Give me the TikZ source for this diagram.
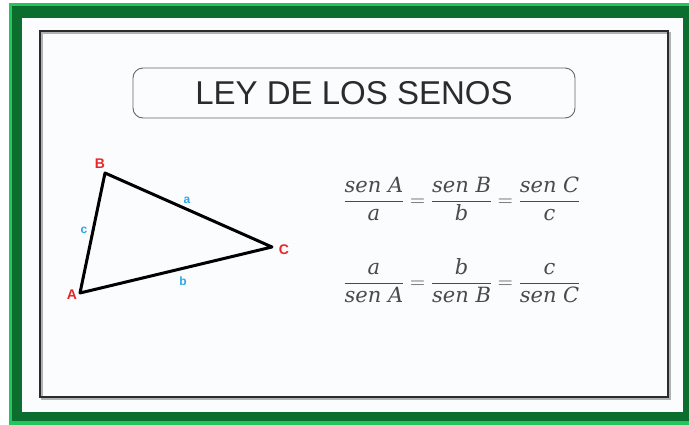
\documentclass[tikz,border=0pt]{standalone}
\usepackage{fontspec}
\usepackage{amsmath}
\newfontfamily\arialf{Liberation Sans}
\newfontfamily\camf{DejaVu Serif}
\definecolor{gdark}{HTML}{0B6E2E}
\definecolor{glight}{HTML}{22C55E}
\definecolor{paper}{HTML}{FBFCFD}
\definecolor{ink}{HTML}{2B2B2B}
\definecolor{formula}{HTML}{4A4A4A}
\definecolor{vred}{HTML}{E8262A}
\definecolor{sblue}{HTML}{2EA6E6}
\newcommand{\fv}[1]{\textit{\camf #1}}
\tikzset{
  vlabel/.style={font=\arialf\bfseries\fontsize{14}{14}\selectfont, text=vred, inner sep=0pt},
  slabel/.style={font=\arialf\bfseries\fontsize{12}{12}\selectfont, text=sblue, inner sep=0pt},
  formulabox/.style={font=\fontsize{21}{24}\selectfont, text=formula, inner sep=0pt},
}
\begin{document}
\begin{tikzpicture}[x=1pt,y=-1pt]
\useasboundingbox (0,0) rectangle (689,425);
\fill[white] (0,0) rectangle (689,425);
% green frame
\fill[glight] (9,3) rectangle (689,425);
\fill[gdark] (12,6) rectangle (689,421);
\fill[paper] (22,18) rectangle (683,412);
% black frame with shadow
\draw[gray!60, line width=2pt] (42,33) rectangle (670,399);
\draw[ink, line width=2pt] (40,31) rectangle (668,397);
% title
\node[draw=gray!80!black, line width=0.9pt, rounded corners=10pt, minimum width=442pt, minimum height=50pt, inner sep=0pt,
      font=\arialf\fontsize{33}{33}\selectfont, text=ink] (title) at (354,93) {LEY DE LOS SENOS};
% triangle
\coordinate (A) at (80,293);
\coordinate (B) at (105,173);
\coordinate (C) at (272,247);
\draw[black, line width=3pt, line join=round] (A) -- (B) -- (C) -- cycle;
\node[vlabel] (lA) at (72,295) {A};
\node[vlabel] (lB) at (100,164) {B};
\node[vlabel] (lC) at (284,250) {C};
\node[slabel] (la) at (187,200) {a};
\node[slabel] (lb) at (183,281) {b};
\node[slabel] (lc) at (84,230) {c};
% formulas
\node[formulabox] (f1) at (462,199) {$\dfrac{\fv{sen A}}{\fv{a}} = \dfrac{\fv{sen B}}{\fv{b}} = \dfrac{\fv{sen C}}{\fv{c}}$};
\node[formulabox] (f2) at (462,281) {$\dfrac{\fv{a}}{\fv{sen A}} = \dfrac{\fv{b}}{\fv{sen B}} = \dfrac{\fv{c}}{\fv{sen C}}$};
\end{tikzpicture}
\end{document}
